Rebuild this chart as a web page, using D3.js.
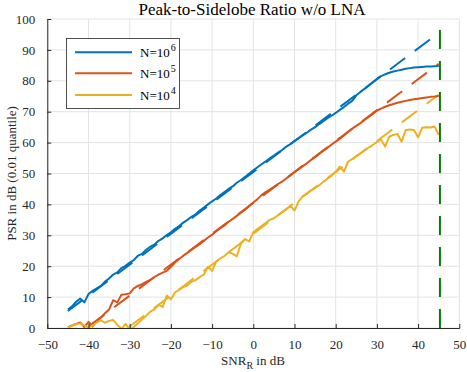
<!DOCTYPE html>
<html>
<head>
<meta charset="utf-8">
<script src="https://cdn.jsdelivr.net/npm/d3@7"></script>
<style>
  body { margin: 0; background: #fff; }
  svg { display: block; font-family: "Liberation Serif", "DejaVu Serif", serif; }
</style>
</head>
<body>
<svg id="chart"></svg>
<script>
// SNR grid (dB)
const snr = [-45,-44,-43,-42,-41,-40,-39,-38,-37,-36,-35,-34,-33,-32,-31,-30,-29,-28,-27,-26,
  -25,-24,-23,-22,-21,-20,-19,-18,-17,-16,-15,-14,-13,-12,-11,-10,-9,-8,-7,-6,
  -5,-4,-3,-2,-1,0,1,2,3,4,5,6,7,8,9,10,11,12,13,14,
  15,16,17,18,19,20,21,22,23,24,25,26,27,28,29,30,31,32,33,34,
  35,36,37,38,39,40,41,42,43,44,45];

// measured PSR, N=1e6
const psr6 = [6.0,7.0,8.5,9.5,8.3,11.0,12.0,12.8,13.6,15.0,16.0,17.3,18.0,19.4,20.1,21.2,22.0,23.4,24.0,25.3,
  26.3,27.0,28.2,29.0,30.1,31.0,32.1,33.0,34.1,35.0,36.0,36.8,38.0,39.0,40.0,41.0,41.9,43.0,44.0,45.0,
  45.8,47.0,47.9,48.9,50.0,51.0,52.0,53.0,53.9,54.9,55.8,56.8,57.6,58.7,59.5,60.5,61.4,62.3,63.2,64.2,
  65.0,66.0,66.9,67.9,68.7,69.6,70.6,71.5,72.6,73.5,75.3,76.4,77.4,78.4,79.5,80.6,81.5,82.1,82.6,83.0,
  83.3,83.6,83.9,84.1,84.3,84.4,84.5,84.6,84.6,84.7,84.8];

// measured PSR, N=1e5
const psr5 = [0.2,0.8,1.3,1.8,0.3,2.0,0.5,2.2,3.3,4.8,6.0,9.0,8.3,10.8,10.9,11.2,12.8,13.6,14.2,14.9,
  15.6,16.5,17.3,17.9,18.5,19.8,21.2,22.3,23.4,24.3,25.3,26.2,27.1,28.2,29.3,30.2,31.3,32.3,33.2,34.4,
  35.3,36.3,37.3,38.3,39.5,40.6,41.7,43.0,44.0,44.8,45.7,46.6,47.4,48.4,49.4,50.4,51.4,52.4,53.3,54.4,
  55.3,56.3,57.4,58.3,59.4,60.3,61.3,62.3,63.5,64.5,65.4,66.3,67.3,68.3,69.3,70.4,71.0,71.6,72.1,72.5,
  72.9,73.2,73.5,73.8,74.0,74.2,74.4,74.6,74.8,74.9,75.1];

// measured PSR, N=1e4
const psr4 = [0.1,0.8,1.2,1.5,0.8,0.2,0.8,1.8,2.5,1.7,2.3,2.6,1.0,-0.2,1.3,-0.5,0.3,1.5,2.8,4.0,
  5.3,6.0,7.5,6.8,10.5,9.3,11.5,12.3,13.2,13.8,15.0,15.5,16.5,17.3,19.8,18.5,21.5,22.5,23.3,24.5,
  24.0,23.2,27.3,28.8,28.0,31.0,32.0,33.0,34.0,35.0,35.5,36.5,37.5,38.4,39.6,38.0,41.0,42.6,43.5,44.5,
  45.3,46.2,47.3,48.3,49.3,50.5,52.2,50.6,53.8,54.7,55.6,56.5,57.5,58.4,59.2,60.2,61.0,58.7,61.9,62.5,
  62.8,60.3,64.1,64.2,64.1,61.7,64.8,65.0,64.9,65.2,62.5];

// theoretical (dashed) lines
const theoryX = [-45, 45];
const theory6 = [5.5, 95.5];
const theory5 = [-4.5, 85.5];
const theory4 = [-14.5, 75.5];

// limit marker
const limitX = 45.3;
const limitY = [0, 100];

const legendLabels = [["N=10", "6"], ["N=10", "5"], ["N=10", "4"]];
const xTicks = [-50,-40,-30,-20,-10,0,10,20,30,40,50];
const yTicks = [0,10,20,30,40,50,60,70,80,90,100];

const W = 467, H = 372;
const colors = ["#0072BD", "#D95319", "#EDB120"];
const dashOffsets = [0.4, 4.2, 16.6];

const svg = d3.select("#chart").attr("width", W).attr("height", H);

const x = d3.scaleLinear().domain([-50, 50]).range([47.3, 459.3]);
const y = d3.scaleLinear().domain([0, 100]).range([328, 19]);

svg.append("defs").append("clipPath").attr("id", "clip")
  .append("rect")
  .attr("x", x(-50)).attr("y", y(100))
  .attr("width", x(50) - x(-50)).attr("height", y(0) - y(100));

// grid
const grid = svg.append("g");
grid.selectAll(".vg").data(xTicks).enter().append("line")
  .attr("x1", d => x(d)).attr("x2", d => x(d))
  .attr("y1", y(0)).attr("y2", y(100))
  .attr("stroke", "#e3e3e3").attr("stroke-width", 1);
grid.selectAll(".hg").data(yTicks).enter().append("line")
  .attr("x1", x(-50)).attr("x2", x(50))
  .attr("y1", d => y(d)).attr("y2", d => y(d))
  .attr("stroke", "#e3e3e3").attr("stroke-width", 1);

const plot = svg.append("g").attr("clip-path", "url(#clip)");

// dashed theory lines
[theory6, theory5, theory4].forEach((vals, i) => {
  const pts = theoryX.map((v, j) => [v, vals[j]]);
  plot.append("path")
    .datum(pts)
    .attr("fill", "none")
    .attr("stroke", colors[i])
    .attr("stroke-width", 2)
    .attr("stroke-dasharray", "19,12")
    .attr("stroke-dashoffset", dashOffsets[i])
    .attr("d", d3.line().x(d => x(d[0])).y(d => y(d[1])));
});

// measured curves
const line = d3.line().x(d => x(d[0])).y(d => y(d[1]));
[psr6, psr5, psr4].forEach((vals, i) => {
  plot.append("path")
    .datum(snr.map((v, j) => [v, vals[j]]))
    .attr("fill", "none")
    .attr("stroke", colors[i])
    .attr("stroke-width", 2)
    .attr("stroke-linejoin", "round")
    .attr("d", line);
});

// green limit line (dashed from bottom)
plot.append("line")
  .attr("x1", x(limitX)).attr("x2", x(limitX))
  .attr("y1", y(limitY[0])).attr("y2", y(limitY[1]))
  .attr("stroke", "#008000")
  .attr("stroke-width", 2)
  .attr("stroke-dasharray", "19,12");

// axes
const xAxis = svg.append("g")
  .attr("transform", `translate(0,${y(0)})`)
  .call(d3.axisBottom(x).tickValues(xTicks).tickSizeInner(-4).tickSizeOuter(0).tickPadding(12));
const yAxis = svg.append("g")
  .attr("transform", `translate(${x(-50)},0)`)
  .call(d3.axisLeft(y).tickValues(yTicks).tickSizeInner(-4).tickSizeOuter(0).tickPadding(12));

[xAxis, yAxis].forEach(a => {
  a.attr("font-family", null).attr("font-size", null);
  a.select(".domain").attr("stroke", "#262626");
  a.selectAll(".tick line").attr("stroke", "#262626");
  a.selectAll(".tick text")
    .attr("fill", "#262626")
    .style("font-family", "'Liberation Serif', serif")
    .style("font-size", "13px");
});

// title
svg.append("text")
  .attr("x", 252).attr("y", 15)
  .attr("text-anchor", "middle")
  .style("font-size", "17px")
  .attr("fill", "#000")
  .text("Peak-to-Sidelobe Ratio w/o LNA");

// x label
const xl = svg.append("text")
  .attr("x", 253).attr("y", 365)
  .attr("text-anchor", "middle")
  .style("font-size", "13px")
  .attr("fill", "#262626");
xl.append("tspan").text("SNR");
xl.append("tspan").attr("dy", 4).style("font-size", "10px").text("R");
xl.append("tspan").attr("dy", -4).text(" in dB");

// y label
svg.append("text")
  .attr("transform", `translate(16,${(y(0) + y(100)) / 2}) rotate(-90)`)
  .attr("text-anchor", "middle")
  .style("font-size", "13px")
  .attr("fill", "#262626")
  .text("PSR in dB (0.01 quantile)");

// legend
const lg = svg.append("g");
lg.append("rect")
  .attr("x", 66.5).attr("y", 38.5)
  .attr("width", 113).attr("height", 70)
  .attr("fill", "#fff")
  .attr("stroke", "#262626")
  .attr("stroke-width", 0.8);
const rows = [52.3, 73.3, 95];
legendLabels.forEach((lab, i) => {
  lg.append("line")
    .attr("x1", 75).attr("x2", 132)
    .attr("y1", rows[i]).attr("y2", rows[i])
    .attr("stroke", colors[i]).attr("stroke-width", 2);
  const t = lg.append("text")
    .attr("x", 140).attr("y", rows[i] + 5)
    .style("font-size", "13px")
    .attr("fill", "#000");
  t.append("tspan").text(lab[0]);
  t.append("tspan").attr("dy", -6).attr("dx", 1).style("font-size", "10px").text(lab[1]);
});
</script>
</body>
</html>
